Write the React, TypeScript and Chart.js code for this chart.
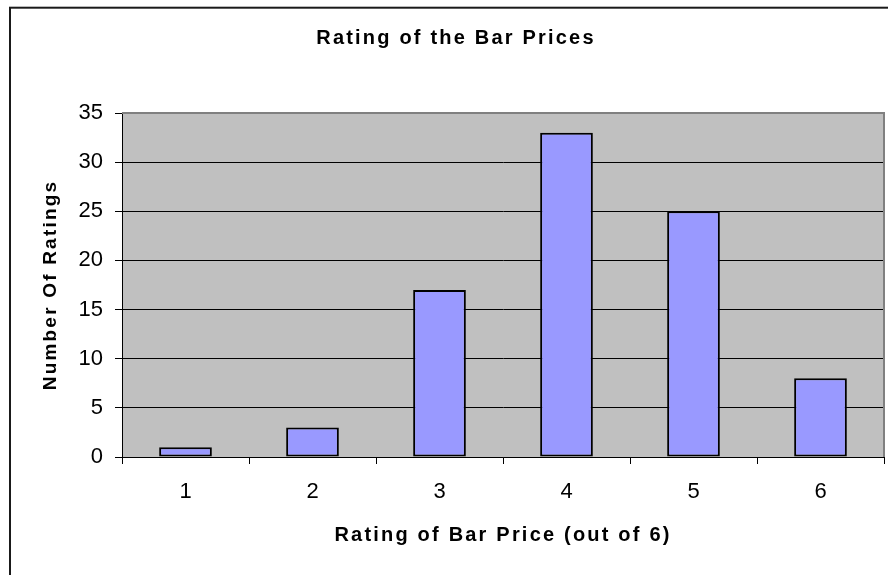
import React, { useEffect, useRef } from 'react';
import { Chart, registerables } from 'chart.js';

Chart.register(...registerables);

const categories: string[] = ['1', '2', '3', '4', '5', '6'];
const ratingCounts: number[] = [1, 3, 17, 33, 25, 8];
const yMin = 0;
const yMax = 35;
const yStep = 5;
const chartTitle = 'Rating of the Bar Prices';
const xAxisTitle = 'Rating of Bar Price (out of 6)';
const yAxisTitle = 'Number Of Ratings';

const FAMILY = "'Liberation Sans', Arial, Helvetica, sans-serif";
const CANVAS_W = 912;
const CANVAS_H = 600;

const framePlugin = {
  id: 'excelFrame',
  beforeDraw(chart: any) {
    const { ctx, chartArea } = chart;
    ctx.save();
    ctx.fillStyle = '#ffffff';
    ctx.fillRect(0, 0, chart.width, chart.height);
    // plot area background
    ctx.fillStyle = '#C0C0C0';
    ctx.fillRect(chartArea.left, chartArea.top, chartArea.right - chartArea.left, chartArea.bottom - chartArea.top);
    // outer chart frame
    ctx.strokeStyle = '#1a1a1a';
    ctx.lineWidth = 2;
    ctx.strokeRect(10, 7.7, chart.width - 19, chart.height - 5);
    ctx.restore();
    (ctx as any).letterSpacing = '2.2px';
  },
  beforeDatasetsDraw(chart: any) {
    const { ctx, chartArea } = chart;
    (ctx as any).letterSpacing = '0px';
    ctx.save();
    ctx.strokeStyle = '#808080';
    ctx.lineWidth = 2;
    ctx.beginPath();
    ctx.moveTo(chartArea.left, chartArea.top);
    ctx.lineTo(chartArea.right, chartArea.top);
    ctx.lineTo(chartArea.right, chartArea.bottom);
    ctx.stroke();
    ctx.restore();
  },
};

export default function App() {
  const canvasRef = useRef<HTMLCanvasElement | null>(null);

  useEffect(() => {
    const canvas = canvasRef.current;
    if (!canvas) return;
    const chart = new Chart(canvas, {
      type: 'bar',
      data: {
        labels: categories,
        datasets: [
          {
            label: yAxisTitle,
            data: ratingCounts,
            yAxisID: 'y',
            backgroundColor: '#9999FF',
            borderColor: '#000000',
            borderWidth: 2,
            borderSkipped: false,
            barPercentage: 0.415,
            categoryPercentage: 1,
          },
        ],
      },
      options: {
        animation: false,
        responsive: false,
        devicePixelRatio: 1,
        layout: { padding: { left: 0, right: 0, top: 0, bottom: 0 } },
        plugins: {
          legend: { display: false },
          tooltip: { enabled: false },
          title: {
            display: true,
            text: chartTitle,
            color: '#000',
            font: { family: FAMILY, size: 20, weight: 'bold' },
            padding: { top: 26, bottom: 63 },
          },
        },
        scales: {
          x: {
            grid: {
              offset: true,
              drawOnChartArea: false,
              drawTicks: true,
              tickLength: 7,
              color: '#000',
              tickColor: '#000',
            },
            border: { color: '#000', width: 1 },
            ticks: {
              color: '#000',
              font: { family: FAMILY, size: 22 },
              padding: 15,
              maxRotation: 0,
              z: 1,
            },
            title: {
              display: true,
              text: xAxisTitle,
              color: '#000',
              font: { family: FAMILY, size: 20, weight: 'bold' },
              padding: { top: 0, bottom: 53 },
            },
            afterFit: (s: any) => {
              s.height = 143;
            },
          },
          y: {
            min: yMin,
            max: yMax,
            grid: {
              color: (c: any) => (c.tick && c.tick.value === yMax ? '#808080' : '#000'),
              tickColor: '#000',
              tickLength: 7,
              lineWidth: 1,
            },
            border: { color: '#000', width: 1 },
            ticks: {
              stepSize: yStep,
              color: '#000',
              font: { family: FAMILY, size: 22 },
              padding: 12,
              z: 1,
            },
            title: {
              display: true,
              text: yAxisTitle,
              color: '#000',
              font: { family: FAMILY, size: 19, weight: 'bold' },
              padding: { top: 39.5, bottom: 0 },
            },
            afterFit: (s: any) => {
              s.width = 122;
            },
          },
          ySpacer: {
            type: 'linear',
            position: 'right',
            display: true,
            min: yMin,
            max: yMax,
            grid: { display: false, drawTicks: false, drawOnChartArea: false },
            border: { display: false },
            ticks: { display: false },
            afterFit: (s: any) => {
              s.width = 28;
            },
          },
        },
      } as any,
      plugins: [framePlugin],
    });
    return () => chart.destroy();
  }, []);

  return (
    <div
      style={{
        position: 'fixed',
        left: 0,
        top: 0,
        width: 888,
        height: 575,
        overflow: 'hidden',
        background: '#fff',
      }}
    >
      <canvas
        ref={canvasRef}
        width={CANVAS_W}
        height={CANVAS_H}
        style={{ display: 'block', width: CANVAS_W, height: CANVAS_H }}
      />
    </div>
  );
}
